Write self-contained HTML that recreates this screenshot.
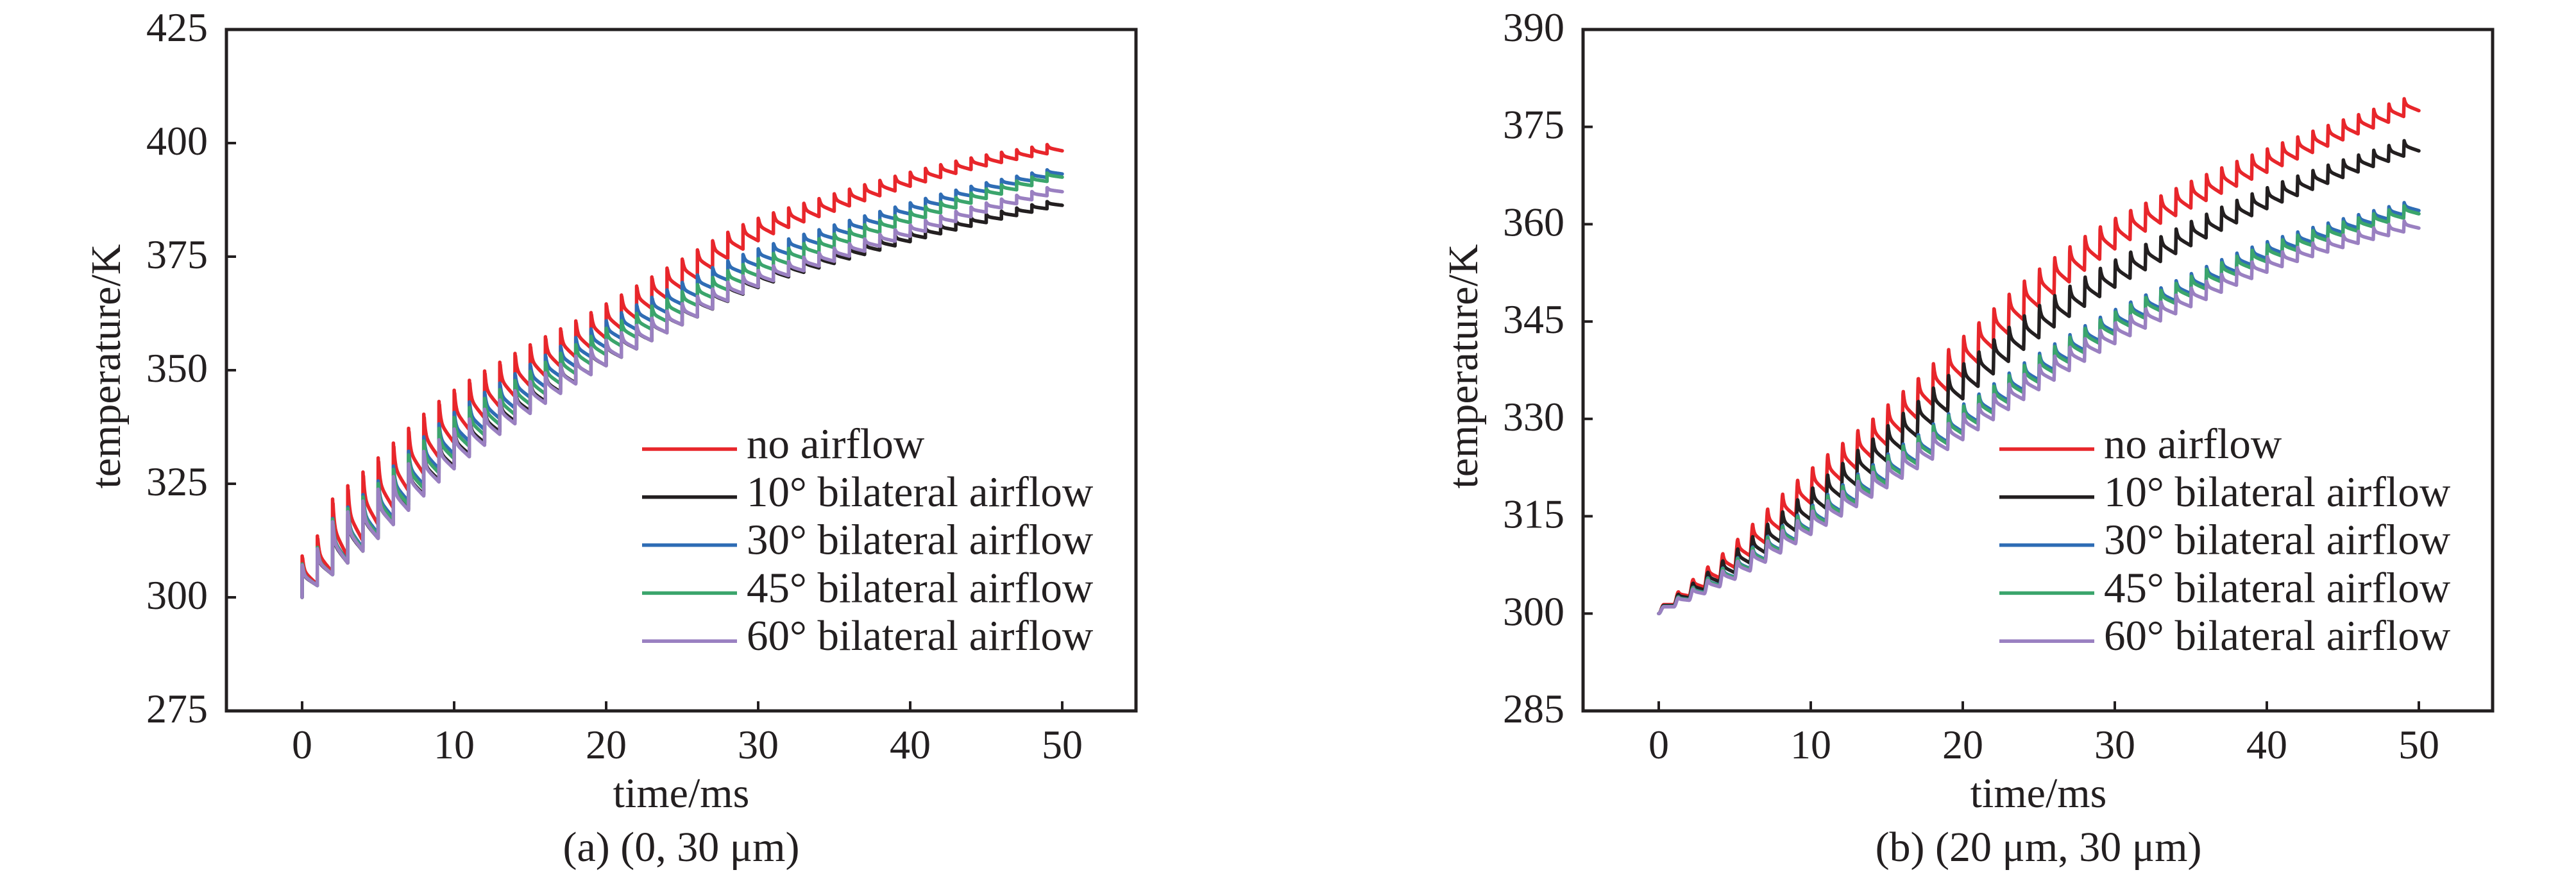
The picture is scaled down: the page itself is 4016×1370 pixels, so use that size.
<!DOCTYPE html>
<html><head><meta charset="utf-8"><style>
html,body{margin:0;padding:0;background:#fff;}
svg{display:block;}
text{font-family:"Liberation Serif","Times New Roman",serif;fill:#231f20;}
</style></head><body>
<svg id="s" width="4016" height="1370" viewBox="0 0 4016 1370" xmlns="http://www.w3.org/2000/svg">
<rect width="4016" height="1370" fill="#fff"/>
<g id="g"></g>
</svg>
<script>
(function(){
var NS="http://www.w3.org/2000/svg", g=document.getElementById('g');
function el(n,a,t){var e=document.createElementNS(NS,n);for(var k in a)e.setAttribute(k,a[k]);if(t!==undefined)e.textContent=t;g.appendChild(e);return e;}
function interp(kn,t){
  if(t<=kn[0][0])return kn[0][1];
  for(var i=1;i<kn.length;i++){if(t<=kn[i][0]){var a=kn[i-1],b=kn[i];
    var p0=kn[Math.max(i-2,0)],p3=kn[Math.min(i+1,kn.length-1)];
    var h=b[0]-a[0],u=(t-a[0])/h;
    var m1=(b[1]-p0[1])/(b[0]-p0[0]||1)*h, m2=(p3[1]-a[1])/(p3[0]-a[0]||1)*h;
    var u2=u*u,u3=u2*u;
    return (2*u3-3*u2+1)*a[1]+(u3-2*u2+u)*m1+(-2*u3+3*u2)*b[1]+(u3-u2)*m2;}}
  return kn[kn.length-1][1];}
var colors=["#e8262b","#231f20","#2f6db5","#3ba56c","#9a80c1"];
var labels=["no airflow","10\u00b0 bilateral airflow","30\u00b0 bilateral airflow","45\u00b0 bilateral airflow","60\u00b0 bilateral airflow"];
function early(t){return t<0.5?0.45:(t<1.5?0.6:1);}
function rs(k,t){var x=t/17;return k*x*Math.exp(1-x);}
var panels=[
 {x0:353,x1:1771,t0:471,ymin:275,ymax:425,step:25,cap:"(a) (0, 30 \u03bcm)",cx:1062,ylx:187,legx:1001,
  series:[
   {B:[[0,300],[1,302.8],[2,305.5],[5,316],[10,334],[15,346.5],[20,357],[25,368],[30,378.5],[35,385],[40,390.5],[45,395],[50,398.3]],S:function(t){return early(t)*14*Math.exp(-t/21);}},
   {B:[[0,300],[1,302.6],[2,305],[5,313],[10,328.8],[15,341],[20,351],[25,360],[30,368.2],[35,373.5],[40,378.3],[45,382.5],[50,386.3]],S:function(t){return early(t)*9.5*Math.exp(-t/20);}},
   {B:[[0,300],[1,302.6],[2,305],[5,314],[10,331.5],[15,344],[20,355],[25,364.5],[30,373],[35,379],[40,384.4],[45,389.3],[50,393.2]],S:function(t){return early(t)*10.5*Math.exp(-t/20);}},
   {B:[[0,300],[1,302.6],[2,305],[5,313.5],[10,330.5],[15,342.5],[20,353.4],[25,362.5],[30,370.8],[35,377],[40,382.5],[45,387.8],[50,392.5]],S:function(t){return early(t)*10.5*Math.exp(-t/20);}},
   {B:[[0,300],[1,302.6],[2,305],[5,313],[10,328.3],[15,340.5],[20,351],[25,360],[30,368.4],[35,374],[40,379.5],[45,384.8],[50,389.3]],S:function(t){return early(t)*10*Math.exp(-t/20);}}
  ],rise:function(t){return 0.02;}},
 {x0:2468,x1:3886,t0:2586,ymin:285,ymax:390,step:15,cap:"(b) (20 \u03bcm, 30 \u03bcm)",cx:3178,ylx:2303,legx:3117,
  series:[
   {B:[[0,300],[5,307.1],[10,317],[15,326],[20,336.5],[25,347.3],[30,356.2],[35,362.5],[40,368],[45,373],[50,377.5]],S:function(t){return rs(4.2,t);}},
   {B:[[0,300],[5,306.3],[10,314.5],[15,323.5],[20,333.1],[25,342.5],[30,350.3],[35,356.7],[40,362.4],[45,367.2],[50,371.3]],S:function(t){return rs(3.6,t);}},
   {B:[[0,300],[5,305.6],[10,312.8],[15,320.3],[20,328],[25,336],[30,343.4],[35,349.3],[40,354.7],[45,358.7],[50,362.1]],S:function(t){return rs(2.8,t);}},
   {B:[[0,300],[5,305.5],[10,312.6],[15,320],[20,327.7],[25,335.6],[30,343],[35,348.9],[40,354.2],[45,358.2],[50,361.6]],S:function(t){return rs(2.8,t);}},
   {B:[[0,300],[5,305.3],[10,312.2],[15,319.4],[20,326.8],[25,334.5],[30,341.6],[35,347.3],[40,352.6],[45,356.4],[50,359.4]],S:function(t){return rs(2.5,t);}}
  ],rise:function(t){return 0.3*Math.exp(-t/9)+0.03;}}
];
var TOP=46,BOT=1108,pxms=23.7;
panels.forEach(function(P){
  var ky=(BOT-TOP)/(P.ymax-P.ymin);
  function X(t){return P.t0+t*pxms;} function Y(v){return BOT-(v-P.ymin)*ky;}
  P.series.forEach(function(s,si){
    var d="M"+X(0).toFixed(1)+" "+Y(300).toFixed(1);
    for(var n=0;n<50;n++){
      var Bn=interp(s.B,n),Bn1=interp(s.B,n+1),S=s.S(n),r=P.rise(n);
      var peak=Bn1+S;
      for(var k=0;k<=60;k++){
        var u=k/60,v;
        if(u<r){var q=u/r;q=q*q*(3-2*q);v=Bn+(peak-Bn)*q;}
        else{var w=(u-r)/(1-r);v=Bn1+S*(0.5*Math.exp(-w/0.09)+0.5*(1-w));}
        if(k==0&&r<=0.02){v=Bn;}
        d+=" L"+X(n+u).toFixed(1)+" "+Y(v).toFixed(1);
        if(k==0&&r<=0.02){d+=" L"+X(n+0.004).toFixed(1)+" "+Y(peak).toFixed(1);}
      }
    }
    el("path",{d:d,fill:"none",stroke:colors[si],"stroke-width":5.5,"stroke-linejoin":"round","stroke-linecap":"round"});
  });
  el("rect",{x:P.x0,y:TOP,width:P.x1-P.x0,height:BOT-TOP,fill:"none",stroke:"#231f20","stroke-width":5});
  for(var v=P.ymin;v<=P.ymax+0.01;v+=P.step){
    var y=Y(v);
    el("line",{x1:P.x0,y1:y,x2:P.x0+15,y2:y,stroke:"#231f20","stroke-width":4});
    el("text",{x:P.x0-29,y:y+18,"font-size":64,"text-anchor":"end"},String(v));
  }
  for(var t=0;t<=50;t+=10){
    var x=X(t);
    el("line",{x1:x,y1:BOT,x2:x,y2:BOT-15,stroke:"#231f20","stroke-width":4});
    el("text",{x:x,y:1182,"font-size":64,"text-anchor":"middle"},String(t));
  }
  el("text",{x:P.cx,y:1258,"font-size":66,"text-anchor":"middle"},"time/ms");
  el("text",{x:P.cx,y:1342,"font-size":66,"text-anchor":"middle"},P.cap);
  el("text",{x:P.ylx,y:571,"font-size":66,"text-anchor":"middle",transform:"rotate(-90 "+P.ylx+" 571)"},"temperature/K");
  for(var i=0;i<5;i++){
    var ly=700+i*74.8;
    el("line",{x1:P.legx,y1:ly,x2:P.legx+148,y2:ly,stroke:colors[i],"stroke-width":5.5});
    el("text",{x:P.legx+163,y:ly+14,"font-size":67},labels[i]);
  }
});
})();
</script>
</body></html>
